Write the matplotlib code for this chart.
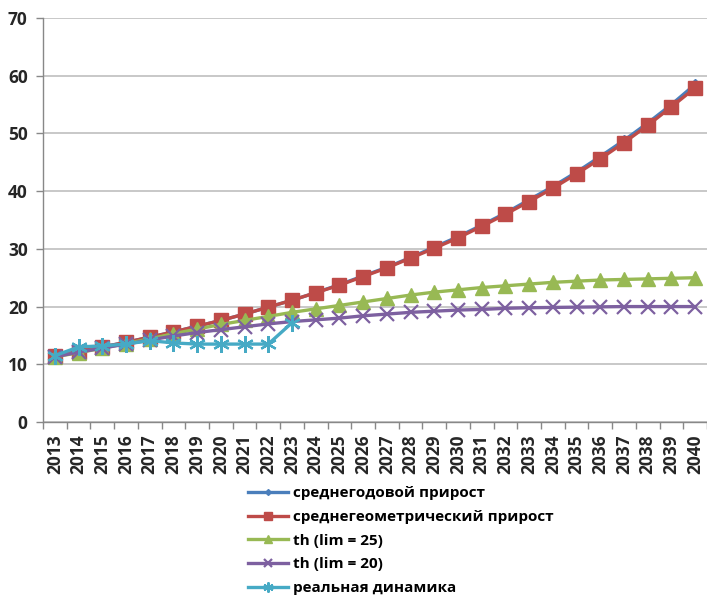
import matplotlib
matplotlib.use("Agg")
import matplotlib.pyplot as plt
from matplotlib.ticker import FixedLocator, MultipleLocator

plt.rcParams['font.family'] = ['Open Sans', 'DejaVu Sans']

years = list(range(2013, 2041))

avg_annual = [11.5, 12.2, 13.0, 13.8, 14.7, 15.6, 16.6, 17.6, 18.7, 19.9,
              21.1, 22.4, 23.8, 25.3, 26.8, 28.5, 30.3, 32.1, 34.1, 36.2,
              38.5, 40.8, 43.3, 46.0, 48.8, 51.8, 55.0, 58.5]
geom_mean = [11.5, 12.2, 13.0, 13.8, 14.7, 15.6, 16.6, 17.6, 18.7, 19.9,
             21.1, 22.4, 23.7, 25.2, 26.7, 28.4, 30.1, 31.9, 33.9, 36.0,
             38.2, 40.5, 43.0, 45.6, 48.4, 51.4, 54.6, 57.9]
th_lim25 = [11.3, 12.0, 12.8, 13.6, 14.4, 15.3, 16.1, 16.9, 17.6, 18.3,
            19.0, 19.6, 20.2, 20.8, 21.4, 22.0, 22.5, 22.9, 23.3, 23.6,
            23.9, 24.2, 24.4, 24.6, 24.7, 24.8, 24.9, 25.0]
th_lim20 = [11.3, 12.1, 12.8, 13.5, 14.2, 14.9, 15.5, 16.0, 16.5, 17.0,
            17.4, 17.7, 18.0, 18.4, 18.7, 19.0, 19.2, 19.4, 19.5, 19.7,
            19.8, 19.85, 19.9, 19.95, 20.0, 20.0, 20.0, 20.0]
real_years = list(range(2013, 2024))
real = [11.5, 13.0, 13.2, 13.5, 14.1, 13.7, 13.5, 13.5, 13.5, 13.5, 17.2]

labels = ["среднегодовой прирост", "среднегеометрический прирост",
          "th (lim = 25)", "th (lim = 20)", "реальная динамика"]

fig = plt.figure(figsize=(7.07, 5.96), dpi=100)
ax = fig.add_axes([43 / 707, 1 - 422 / 596, 1 - 43 / 707, (422 - 18) / 596])

x = list(range(len(years)))
xr = list(range(len(real_years)))

ax.plot(x, avg_annual, color='#4A7EBB', lw=2.4, marker='D', ms=5,
        label=labels[0], zorder=3)
ax.plot(x, geom_mean, color='#BE4B48', lw=2.4, marker='s', ms=10,
        label=labels[1], zorder=4)
ax.plot(x, th_lim25, color='#98B954', lw=2.4, marker='^', ms=10,
        label=labels[2], zorder=5)
ax.plot(x, th_lim20, color='#7D60A0', lw=2.4, marker='x', ms=10, mew=1.6,
        label=labels[3], zorder=6)
ax.plot(xr, real, color='#46AAC5', lw=2.4, marker=(6, 2, 0), ms=12, mew=1.6,
        label=labels[4], zorder=7)

ax.set_xlim(-0.5, len(years) - 0.5)
ax.set_ylim(0, 70)
ax.yaxis.set_major_locator(MultipleLocator(10))
ax.grid(axis='y', color='#BFBFBF', lw=1.2)
ax.set_axisbelow(True)

ax.set_xticks(x)
ax.set_xticklabels([str(y) for y in years], rotation=90, fontweight='bold',
                   fontsize=12.5, color='#262626')
ax.xaxis.set_minor_locator(FixedLocator([i - 0.5 for i in range(len(years) + 1)]))
ax.tick_params(axis='x', which='major', length=0, pad=9)
ax.tick_params(axis='x', which='minor', length=5, color='#888888', width=1)
ax.tick_params(axis='y', length=5, color='#888888', width=1, labelsize=12.5,
               labelcolor='#262626', pad=6)
for t in ax.get_yticklabels():
    t.set_fontweight('bold')

for s in ['top', 'right']:
    ax.spines[s].set_visible(False)
for s in ['left', 'bottom']:
    ax.spines[s].set_color('#888888')
    ax.spines[s].set_linewidth(1)

fig.legend(loc='upper left', bbox_to_anchor=(242 / 707, 1 - 480 / 596),
           frameon=False, handlelength=2.6, handletextpad=0.35,
           labelspacing=0.64, borderaxespad=0, markerscale=0.6,
           prop={'weight': 'bold', 'size': 11})

fig.savefig('out.png', dpi=100, facecolor='white')
